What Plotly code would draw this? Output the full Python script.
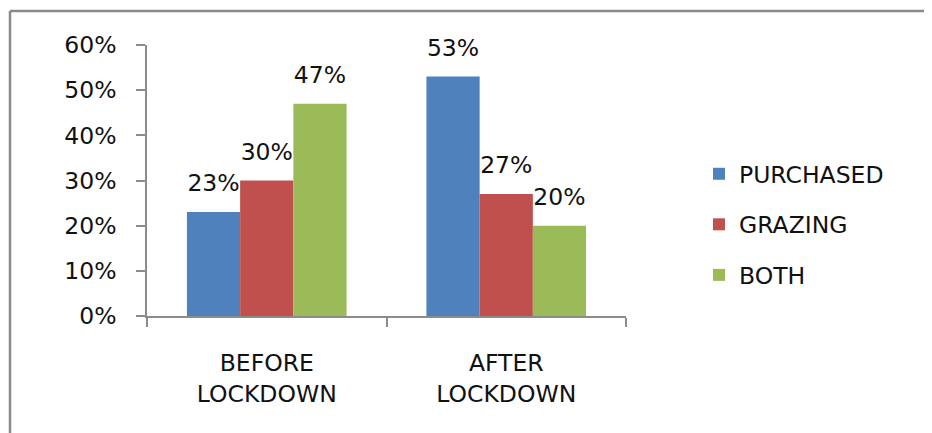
import plotly.graph_objects as go

categories = ["BEFORE<br>LOCKDOWN", "AFTER<br>LOCKDOWN"]
series_names = ["PURCHASED", "GRAZING", "BOTH"]
purchased = [0.23, 0.53]
grazing = [0.30, 0.27]
both = [0.47, 0.20]
y_ticks = [0, 0.1, 0.2, 0.3, 0.4, 0.5, 0.6]

colors = ["#4F81BD", "#C0504D", "#9BBB59"]
FONT = "DejaVu Sans"
FS = 23.5
TXT = "#111111"

# page body has an 8px margin; figure coords are offset by it
OFF = 8
W, H = 932, 433
L, R, T, B = 147 - OFF, 932 - 626 + OFF, 45 - OFF, 433 - 316 + OFF

fig = go.Figure()
for name, vals, col in zip(series_names, [purchased, grazing, both], colors):
    fig.add_trace(go.Bar(x=categories, y=vals, name=name, marker_color=col,
                         marker_line_width=0, offsetgroup=name, legendgroup=name))
for name, vals in zip(series_names, [purchased, grazing, both]):
    fig.add_trace(go.Scatter(x=categories, y=vals, mode="markers+text",
                             text=[f"{round(v*100)}%" for v in vals],
                             textposition="top center",
                             textfont=dict(family=FONT, size=FS, color=TXT),
                             marker=dict(size=22, opacity=0),
                             offsetgroup=name, showlegend=False, hoverinfo="skip",
                             cliponaxis=False))

def px(x):
    return (x - OFF - L) / (W - L - R)

def py(y):
    return (H - B - (y - OFF)) / (H - T - B)

border = "#8a8a8a"
fig.add_shape(type="line", xref="paper", yref="paper", x0=px(10), x1=px(W + 20), y0=py(11), y1=py(11),
              line=dict(color=border, width=2.5))
fig.add_shape(type="line", xref="paper", yref="paper", x0=px(10), x1=px(10), y0=py(11), y1=py(H + 20),
              line=dict(color=border, width=2.5))

fig.update_layout(
    width=W, height=H,
    margin=dict(l=L, r=R, t=T, b=B),
    paper_bgcolor="white", plot_bgcolor="white",
    barmode="group", bargap=1/3, bargroupgap=0,
    scattermode="group", scattergap=1/3,
    font=dict(family=FONT, size=FS, color=TXT),
    showlegend=True,
    legend=dict(x=px(699), y=py(152), xanchor="left", yanchor="top",
                font=dict(family=FONT, size=FS, color=TXT),
                tracegroupgap=17, itemwidth=30, bgcolor="rgba(0,0,0,0)"),
    xaxis=dict(showline=True, linecolor="#8c8c8c", linewidth=1.5,
               ticks="outside", tickson="boundaries", ticklen=9, tickcolor="#8c8c8c",
               tickwidth=1.5, ticklabelstandoff=25, showgrid=False, fixedrange=True),
    yaxis=dict(range=[0, 0.6], tickvals=y_ticks, tickformat=".0%",
               showline=True, linecolor="#8c8c8c", linewidth=1.5,
               ticks="outside", ticklen=9, tickcolor="#8c8c8c", tickwidth=1.5,
               ticklabelstandoff=15, showgrid=False, zeroline=False, fixedrange=True),
)

fig.write_html("out.html")
